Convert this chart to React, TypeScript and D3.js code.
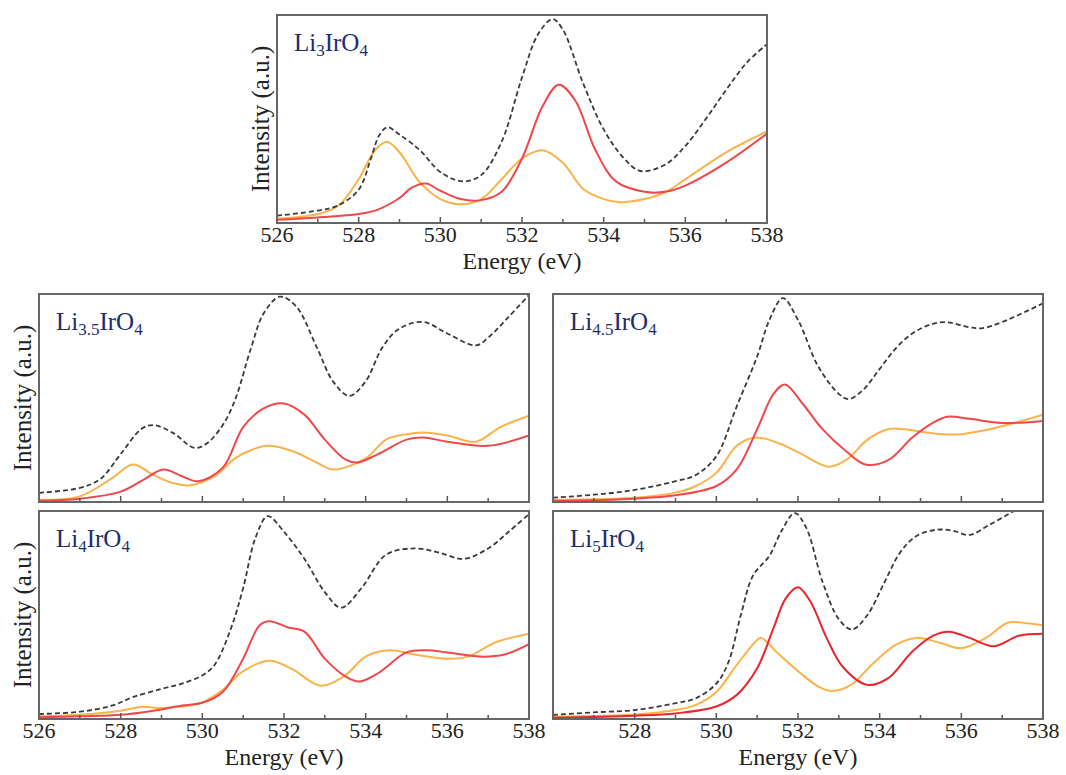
import React from "react";
import * as d3 from "d3";

type Pt = [number, number];

// Li3IrO4
const li3Total: Pt[] = [[526, 0.035], [527, 0.06], [527.5, 0.085], [528, 0.16], [528.3, 0.31], [528.5, 0.42], [528.7, 0.46], [529, 0.425], [529.5, 0.35], [530, 0.245], [530.55, 0.2], [531, 0.23], [531.5, 0.39], [532, 0.7], [532.4, 0.91], [532.75, 0.98], [533, 0.93], [533.5, 0.67], [534, 0.45], [534.5, 0.31], [534.9, 0.25], [535.5, 0.28], [536, 0.37], [536.5, 0.5], [537, 0.64], [537.5, 0.77], [538, 0.86]];
const li3Red: Pt[] = [[526, 0.016], [527, 0.027], [528, 0.043], [528.5, 0.067], [529, 0.12], [529.3, 0.17], [529.65, 0.19], [530, 0.155], [530.5, 0.115], [531, 0.11], [531.5, 0.15], [532, 0.31], [532.5, 0.56], [532.9, 0.665], [533.3, 0.59], [533.8, 0.35], [534.3, 0.2], [535, 0.15], [535.5, 0.15], [536, 0.18], [537, 0.29], [538, 0.43]];
const li3Orange: Pt[] = [[526, 0.02], [527, 0.043], [527.5, 0.083], [528, 0.21], [528.4, 0.35], [528.7, 0.39], [529, 0.34], [529.5, 0.195], [530, 0.115], [530.5, 0.09], [531, 0.115], [531.5, 0.21], [532, 0.31], [532.5, 0.35], [533, 0.29], [533.5, 0.163], [534, 0.115], [534.4, 0.1], [535, 0.115], [535.5, 0.147], [536, 0.21], [537, 0.34], [538, 0.44]];

// Li3.5IrO4
const li35Total: Pt[] = [[526, 0.044], [527, 0.068], [527.5, 0.11], [528, 0.23], [528.5, 0.35], [528.8, 0.37], [529.3, 0.33], [529.8, 0.26], [530.1, 0.28], [530.5, 0.37], [530.8, 0.49], [531.2, 0.745], [531.5, 0.906], [531.9, 0.987], [532.3, 0.94], [532.8, 0.745], [533.2, 0.58], [533.6, 0.51], [534, 0.58], [534.4, 0.74], [534.8, 0.83], [535.4, 0.866], [536, 0.81], [536.7, 0.753], [537, 0.79], [537.5, 0.89], [538, 0.995]];
const li35Red: Pt[] = [[526, 0.006], [527, 0.016], [528, 0.05], [528.5, 0.1], [529.05, 0.156], [529.5, 0.124], [529.9, 0.1], [530.5, 0.165], [531, 0.36], [531.5, 0.45], [532, 0.474], [532.5, 0.42], [533, 0.3], [533.5, 0.205], [533.8, 0.19], [534.3, 0.23], [535, 0.3], [535.4, 0.31], [536, 0.29], [537, 0.27], [538, 0.32]];
const li35Orange: Pt[] = [[526, 0.011], [527, 0.027], [527.8, 0.116], [528.3, 0.18], [528.8, 0.13], [529.3, 0.09], [529.7, 0.08], [530.3, 0.124], [530.8, 0.21], [531.2, 0.25], [531.6, 0.27], [532.2, 0.245], [532.8, 0.19], [533.2, 0.156], [534, 0.21], [534.5, 0.3], [535, 0.326], [535.4, 0.334], [536, 0.32], [536.7, 0.29], [537.3, 0.36], [538, 0.415]];

// Li4IrO4
const li4Total: Pt[] = [[526, 0.024], [527, 0.035], [527.8, 0.065], [528.3, 0.105], [529, 0.145], [529.5, 0.17], [530, 0.21], [530.3, 0.26], [530.7, 0.435], [531, 0.63], [531.3, 0.87], [531.6, 0.975], [532, 0.9], [532.5, 0.77], [533, 0.61], [533.4, 0.535], [533.9, 0.63], [534.5, 0.79], [535.2, 0.82], [535.8, 0.8], [536.4, 0.77], [537, 0.82], [537.5, 0.9], [538, 0.985]];
const li4Red: Pt[] = [[526, 0.008], [527, 0.013], [528, 0.02], [528.8, 0.04], [529.5, 0.065], [530, 0.078], [530.5, 0.13], [531, 0.29], [531.4, 0.45], [531.65, 0.47], [532.1, 0.44], [532.5, 0.42], [533, 0.29], [533.5, 0.205], [533.85, 0.18], [534.3, 0.22], [535, 0.32], [535.5, 0.33], [536, 0.32], [536.8, 0.3], [537.4, 0.31], [538, 0.36]];
const li4Orange: Pt[] = [[526, 0.013], [527, 0.02], [528, 0.04], [528.5, 0.058], [529, 0.053], [529.5, 0.06], [530, 0.08], [530.5, 0.14], [531, 0.23], [531.65, 0.28], [532.2, 0.24], [532.9, 0.16], [533.5, 0.21], [534, 0.3], [534.6, 0.33], [535.2, 0.31], [536, 0.29], [536.5, 0.3], [537.2, 0.37], [538, 0.41]];

// Li4.5IrO4
const li45Total: Pt[] = [[526, 0.021], [527, 0.035], [528, 0.058], [529, 0.1], [529.5, 0.13], [530, 0.22], [530.5, 0.46], [531, 0.7], [531.3, 0.875], [531.63, 0.98], [532, 0.875], [532.5, 0.65], [533, 0.52], [533.24, 0.495], [533.6, 0.54], [534, 0.64], [534.4, 0.74], [534.8, 0.81], [535.2, 0.85], [535.6, 0.865], [536.2, 0.84], [536.5, 0.835], [537, 0.865], [538, 0.955]];
const li45Red: Pt[] = [[526, 0.005], [528, 0.016], [529, 0.032], [530, 0.077], [530.5, 0.157], [531, 0.35], [531.4, 0.52], [531.68, 0.565], [532.1, 0.476], [532.6, 0.35], [533.2, 0.24], [533.65, 0.18], [534.2, 0.2], [534.8, 0.31], [535.3, 0.38], [535.65, 0.41], [536.2, 0.4], [537, 0.38], [538, 0.39]];
const li45Orange: Pt[] = [[526, 0.01], [528, 0.02], [529, 0.045], [529.5, 0.077], [530, 0.14], [530.5, 0.27], [530.95, 0.31], [531.5, 0.285], [532, 0.24], [532.75, 0.17], [533.2, 0.205], [533.7, 0.3], [534.2, 0.35], [534.6, 0.35], [535.3, 0.33], [535.9, 0.325], [536.7, 0.35], [537.3, 0.38], [538, 0.42]];

// Li5IrO4
const li5Total: Pt[] = [[526, 0.02], [527, 0.032], [528, 0.043], [529, 0.076], [529.5, 0.1], [530, 0.17], [530.3, 0.275], [530.6, 0.5], [530.9, 0.69], [531.3, 0.785], [531.6, 0.905], [531.92, 0.99], [532.2, 0.92], [532.6, 0.66], [533, 0.48], [533.32, 0.43], [533.7, 0.5], [534.1, 0.65], [534.5, 0.8], [534.9, 0.88], [535.4, 0.91], [535.8, 0.905], [536.2, 0.885], [536.7, 0.935], [537.2, 0.99], [537.6, 1.04], [538, 1.09]];
const li5Red: Pt[] = [[526, 0.006], [528, 0.016], [529, 0.027], [530, 0.06], [530.5, 0.116], [531, 0.244], [531.4, 0.437], [531.7, 0.58], [532, 0.633], [532.3, 0.566], [532.7, 0.39], [533.1, 0.25], [533.7, 0.164], [534.2, 0.195], [534.8, 0.325], [535.3, 0.4], [535.7, 0.42], [536.2, 0.39], [536.8, 0.35], [537.4, 0.4], [538, 0.41]];
const li5Orange: Pt[] = [[526, 0.011], [528, 0.022], [529, 0.043], [529.5, 0.068], [530, 0.13], [530.5, 0.26], [531, 0.38], [531.1, 0.39], [531.5, 0.317], [532, 0.23], [532.5, 0.156], [532.8, 0.135], [533.3, 0.164], [533.8, 0.26], [534.4, 0.357], [534.9, 0.39], [535.5, 0.365], [536, 0.34], [536.6, 0.39], [537.15, 0.464], [537.6, 0.46], [538, 0.45]];

const tickValues = [526, 527, 528, 529, 530, 531, 532, 533, 534, 535, 536, 537, 538];
const allLabels = [526, 528, 530, 532, 534, 536, 538];

const W = 490;
const H = 208;
const SERIF = "Liberation Serif, Times New Roman, Times, serif";
const NAVY = "#1c2d6e";
const RED = "#f0484a";
const ORANGE = "#fbb24a";

type PanelProps = {
  x0: number;
  y0: number;
  id: string;
  sub: string;
  total: Pt[];
  red: Pt[];
  orange: Pt[];
  labels: number[];
  showEnergy: boolean;
  showIntensity: boolean;
  redColor?: string;
};

function Panel({ x0, y0, id, sub, total, red, orange, labels, showEnergy, showIntensity, redColor }: PanelProps) {
  const x = d3.scaleLinear().domain([526, 538]).range([x0, x0 + W]);
  const y = d3.scaleLinear().domain([0, 1]).range([y0 + H, y0]);
  const line = d3
    .line<Pt>()
    .x((d) => x(d[0]))
    .y((d) => y(d[1]))
    .curve(d3.curveCatmullRom.alpha(0.5));
  const bottom = y0 + H;

  return (
    <g>
      <defs>
        <clipPath id={"clip-" + id}>
          <rect x={x0} y={y0} width={W} height={H} />
        </clipPath>
      </defs>
      <g clipPath={`url(#clip-${id})`}>
        <path d={line(orange) || ""} fill="none" stroke={ORANGE} strokeWidth={2} />
        <path d={line(red) || ""} fill="none" stroke={redColor || RED} strokeWidth={2} />
        <path d={line(total) || ""} fill="none" stroke="#3a3a3a" strokeWidth={1.8} strokeDasharray="5,3" />
      </g>
      {tickValues.slice(1, -1).map((t) => (
        <line
          key={t}
          x1={x(t)}
          x2={x(t)}
          y1={bottom}
          y2={bottom - (t % 2 === 0 ? 6 : 4)}
          stroke="#555"
          strokeWidth={1.5}
        />
      ))}
      <rect x={x0} y={y0} width={W} height={H} fill="none" stroke="#666" strokeWidth={2} />
      {labels.map((t) => (
        <text key={t} x={x(t)} y={bottom + 19} textAnchor="middle" fontFamily={SERIF} fontSize={22} fill="#222">
          {t}
        </text>
      ))}
      {showEnergy && (
        <text x={x0 + W / 2} y={bottom + 46} textAnchor="middle" fontFamily={SERIF} fontSize={24} fill="#222">
          Energy (eV)
        </text>
      )}
      {showIntensity && (
        <text
          transform={`translate(${x0 - 8},${y0 + H / 2}) rotate(-90)`}
          textAnchor="middle"
          fontFamily={SERIF}
          fontSize={25}
          fill="#222"
        >
          Intensity (a.u.)
        </text>
      )}
      <text x={x0 + 17} y={y0 + 36} fontFamily={SERIF} fontSize={25} fill={NAVY}>
        Li
        <tspan fontSize={17} dy={5}>{sub}</tspan>
        <tspan dy={-5}>IrO</tspan>
        <tspan fontSize={17} dy={5}>4</tspan>
      </text>
    </g>
  );
}

export default function App() {
  return (
    <svg
      width={1066}
      height={775}
      style={{ position: "absolute", left: 0, top: 0, background: "#fff" }}
    >
      <Panel x0={277} y0={15} id="li3" sub="3" total={li3Total} red={li3Red} orange={li3Orange} labels={allLabels} showEnergy showIntensity />
      <Panel x0={39} y0={294} id="li35" sub="3.5" total={li35Total} red={li35Red} orange={li35Orange} labels={[]} showEnergy={false} showIntensity />
      <Panel x0={39} y0={511} id="li4" sub="4" total={li4Total} red={li4Red} orange={li4Orange} labels={allLabels} showEnergy showIntensity />
      <Panel x0={553} y0={294} id="li45" sub="4.5" total={li45Total} red={li45Red} orange={li45Orange} labels={[]} showEnergy={false} showIntensity={false} />
      <Panel x0={553} y0={511} id="li5" sub="5" total={li5Total} red={li5Red} orange={li5Orange} labels={allLabels.slice(1)} showEnergy showIntensity={false} redColor="#e8262c" />
    </svg>
  );
}
